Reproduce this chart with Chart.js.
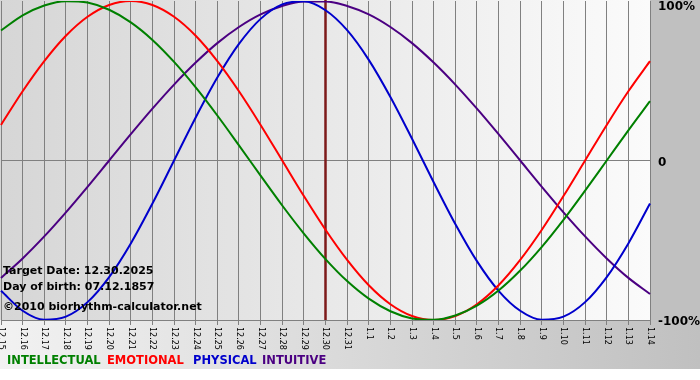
<!DOCTYPE html>
<html>
<head>
<meta charset="utf-8">
<title>Biorhythm</title>
<script src="https://cdn.jsdelivr.net/npm/chart.js@4.4.1/dist/chart.umd.min.js"></script>
<style>
  html, body { margin: 0; padding: 0; background: #fff; }
</style>
</head>
<body>
<canvas id="biorhythmChart" width="700" height="380"></canvas>
<script>
// days shown on the x axis (month.day)
const days = ['12.15', '12.16', '12.17', '12.18', '12.19', '12.20', '12.21', '12.22', '12.23', '12.24',
              '12.25', '12.26', '12.27', '12.28', '12.29', '12.30', '12.31', '1.1', '1.2', '1.3',
              '1.4', '1.5', '1.6', '1.7', '1.8', '1.9', '1.10', '1.11', '1.12', '1.13', '1.14'];

// cycle values in percent, one per day
const intellectual = [81.5, 91.0, 97.2, 99.9, 99.0, 94.5, 86.6, 75.6, 61.8, 45.8, 28.2, 9.5, -9.5, -28.2, -45.8, -61.8,
                      -75.6, -86.6, -94.5, -99.0, -99.9, -97.2, -91.0, -81.5, -69.0, -54.1, -37.2, -18.9, 0, 18.9, 37.2];
const emotional = [22.3, 43.4, 62.3, 78.2, 90.1, 97.5, 100, 97.5, 90.1, 78.2, 62.3, 43.4, 22.3, 0, -22.3, -43.4,
                   -62.3, -78.2, -90.1, -97.5, -100, -97.5, -90.1, -78.2, -62.3, -43.4, -22.3, 0, 22.3, 43.4, 62.3];
const physical = [-81.7, -94.2, -99.8, -97.9, -88.8, -73.1, -52.0, -27.0, 0, 27.0, 52.0, 73.1, 88.8, 97.9, 99.8, 94.2,
                  81.7, 63.1, 39.8, 13.6, -13.6, -39.8, -63.1, -81.7, -94.2, -99.8, -97.9, -88.8, -73.1, -52.0, -27.0];
const intuitive = [-73.6, -61.4, -47.6, -32.5, -16.5, 0, 16.5, 32.5, 47.6, 61.4, 73.6, 83.7, 91.6, 96.9, 99.7, 99.7,
                   96.9, 91.6, 83.7, 73.6, 61.4, 47.6, 32.5, 16.5, 0, -16.5, -32.5, -47.6, -61.4, -73.6, -83.7];

const yTicks = [100, 0, -100];
const yTickLabels = ['100%', '0', '-100%'];

const targetDay = '12.30';
const infoLines = ['Target Date: 12.30.2025', 'Day of birth: 07.12.1857', '\u00a92010 biorhythm-calculator.net'];

const seriesNames = ['INTELLECTUAL', 'EMOTIONAL', 'PHYSICAL', 'INTUITIVE'];
const seriesColors = ['#008000', '#ff0000', '#0000cc', '#4b0082'];

// backgrounds: grey gradient plot, grey strip on the right, band under the axis
const backdrop = {
    id: 'backdrop',
    beforeDraw(chart) {
        const { ctx, chartArea: a, width } = chart;
        ctx.save();
        ctx.fillStyle = '#fff';
        ctx.fillRect(0, 0, width, chart.height);

        let g = ctx.createLinearGradient(0, 0, width, 0);
        g.addColorStop(0, '#f2f2f2');
        g.addColorStop(1, '#c0c0c0');
        ctx.fillStyle = g;
        ctx.fillRect(0, a.bottom, width, 369 - a.bottom);

        ctx.fillStyle = '#c0c0c0';
        ctx.fillRect(a.right, 0, width - a.right, a.bottom);

        g = ctx.createLinearGradient(0, 0, a.right, 0);
        g.addColorStop(0, '#d6d6d6');
        g.addColorStop(1, '#fbfbfb');
        ctx.fillStyle = g;
        ctx.fillRect(0, 0, a.right, a.bottom);
        ctx.restore();
    },
    beforeDatasetsDraw(chart) {
        const { ctx, chartArea: a } = chart;
        const x = chart.scales.x.getPixelForValue(days.indexOf(targetDay));
        ctx.save();
        ctx.strokeStyle = '#7d1a1a';
        ctx.lineWidth = 2.5;
        ctx.beginPath();
        ctx.moveTo(x, 0);
        ctx.lineTo(x, a.bottom);
        ctx.stroke();
        ctx.restore();
    }
};

// texts: rotated day labels, % labels, info block, coloured legend
const labels = {
    id: 'labels',
    afterDraw(chart) {
        const { ctx, chartArea: a } = chart;
        const xs = chart.scales.x, ys = chart.scales.y;
        ctx.save();

        ctx.fillStyle = '#000';
        ctx.font = '8px "DejaVu Sans"';
        ctx.textAlign = 'left';
        ctx.textBaseline = 'middle';
        days.forEach((d, i) => {
            ctx.save();
            ctx.translate(xs.getPixelForTick(i), a.bottom + 7);
            ctx.rotate(Math.PI / 2);
            ctx.fillText(d, 0, 0);
            ctx.restore();
        });

        ctx.font = 'bold 12px "DejaVu Sans"';
        yTicks.forEach((v, i) => {
            const y = Math.max(ys.getPixelForValue(v) + 2, 7);
            ctx.fillText(yTickLabels[i], a.right + 8, y);
        });

        ctx.font = 'bold 11px "DejaVu Sans"';
        ctx.fillText(infoLines[0], 3, a.bottom - 49);
        ctx.fillText(infoLines[1], 3, a.bottom - 33);
        ctx.fillText(infoLines[2], 3, a.bottom - 13);

        ctx.font = 'bold 11.5px "DejaVu Sans"';
        const legendX = [7, 107, 193, 262];
        seriesNames.forEach((n, i) => {
            ctx.fillStyle = seriesColors[i];
            ctx.fillText(n, legendX[i], 361);
        });
        ctx.restore();
    }
};

const ctx = document.getElementById('biorhythmChart').getContext('2d');
const biorhythmChart = new Chart(ctx, {
    type: 'line',
    data: {
        labels: days,
        datasets: [intellectual, emotional, physical, intuitive].map((values, i) => ({
            label: seriesNames[i],
            data: values,
            borderColor: seriesColors[i],
            borderWidth: 2,
            pointRadius: 0,
            cubicInterpolationMode: 'monotone',
            fill: false
        }))
    },
    options: {
        responsive: false,
        animation: false,
        layout: { padding: { left: 1, top: 1, right: 0, bottom: 0 } },
        plugins: {
            legend: { display: false },
            tooltip: { enabled: false }
        },
        scales: {
            x: {
                offset: false,
                afterFit: (s) => { s.height = 60; },
                grid: { color: '#808080', lineWidth: 1, tickLength: 5 },
                border: { color: '#808080' },
                ticks: { display: false }
            },
            y: {
                position: 'right',
                min: -100,
                max: 100,
                afterFit: (s) => { s.width = 50; },
                afterBuildTicks: (s) => { s.ticks = yTicks.map(v => ({ value: v })); },
                grid: {
                    color: (c) => c.tick && c.tick.value === 0 ? '#808080' : 'rgba(0,0,0,0)',
                    drawTicks: false
                },
                border: { display: false },
                ticks: { display: false }
            }
        }
    },
    plugins: [backdrop, labels]
});
</script>
</body>
</html>
